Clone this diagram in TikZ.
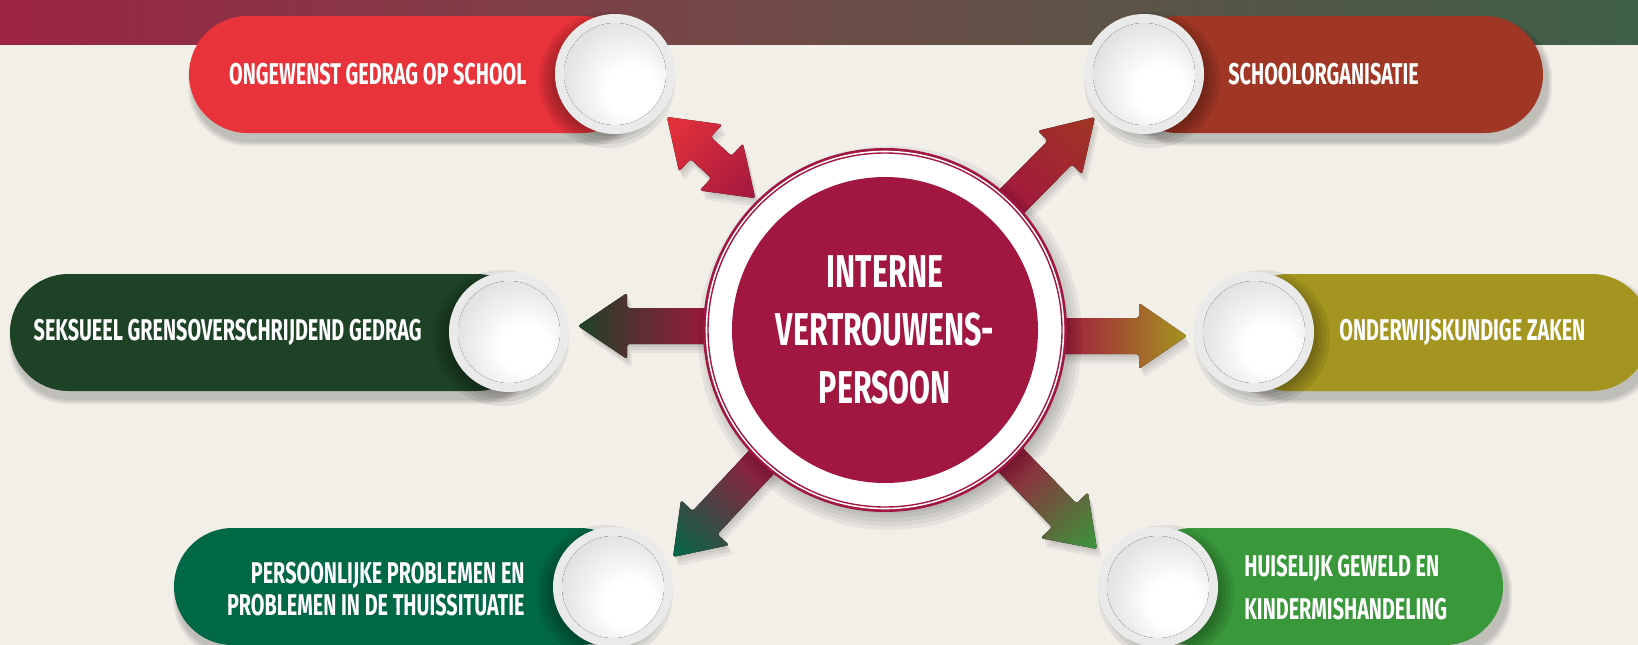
\documentclass[tikz,border=0pt]{standalone}
\usepackage{fontspec}
\newfontfamily\condfont[FakeStretch=0.66]{Fira Sans}
\usetikzlibrary{calc}
\definecolor{bg}{HTML}{F2EFE9}
\definecolor{crim}{HTML}{A2173F}
\definecolor{cred}{HTML}{E8333A}
\definecolor{crust}{HTML}{A03624}
\definecolor{cdkgreen}{HTML}{1E4226}
\definecolor{colive}{HTML}{A3951F}
\definecolor{cgreen}{HTML}{006847}
\definecolor{clgreen}{HTML}{38983A}
\definecolor{ringgray}{HTML}{EAEAEA}
\definecolor{bandL}{HTML}{9C2443}
\definecolor{bandM}{HTML}{6E4D48}
\definecolor{bandR}{HTML}{3E5F46}
\pgfdeclareradialshading{bowl}{\pgfpoint{10bp}{-10bp}}{color(0bp)=(white); color(12bp)=(white); color(32bp)=(black!12); color(50bp)=(black!24); color(60bp)=(black!26)}
\newcommand\fatarrow[4]{(0,0) -- (-#1,#2) -- (-#1,#3) -- (-#4,#3) -- (-#4,-#3) -- (-#1,-#3) -- (-#1,-#2) -- cycle}
\newcommand\dblarrowpath{(60,0) -- (14,32) -- (14,15) -- (-14,15) -- (-14,32) -- (-60,0) -- (-14,-32) -- (-14,-15) -- (14,-15) -- (14,-32) -- cycle}
\newcommand\pillshape[5]{%
  \foreach \k in {1,...,5}{\fill[black,opacity=0.045,rounded corners=58pt] ({#1-\k+4},{#2-\k+8}) rectangle ({#3+\k+4},{#4+\k+8});}
  \fill[#5,rounded corners=58.5pt] (#1,#2) rectangle (#3,#4);}
\newcommand\bowlshadow[3]{%
  \foreach \r in {52,56,60,64,68}{\fill[black,opacity=0.07] ({#1+#3},{#2+6}) circle[radius=\r pt];}}
\newcommand\gradarrow[7]{%
  \foreach \d in {3,6,9}{\begin{scope}[transform canvas={shift={(#1)},shift={(0.5*\d,\d)},rotate=#2}]\fill[black,opacity=0.055,rounded corners=2.5pt] \fatarrow{#4}{#5}{#6}{#7};\end{scope}}
  \begin{scope}[transform canvas={shift={(#1)},rotate=#2}]\fill[left color=crim,right color=#3,rounded corners=2.5pt] \fatarrow{#4}{#5}{#6}{#7};\end{scope}}
\tikzset{
  bowlring/.style={circle,fill=ringgray,minimum size=120pt,inner sep=0pt},
  lbl/.style={font=\condfont\bfseries\fontsize{30}{32}\selectfont,text=white,inner sep=0pt},
  ctext/.style={font=\condfont\bfseries\fontsize{46}{58}\selectfont,text=white,inner sep=0pt,align=center}
}
\begin{document}
\begin{tikzpicture}[x=1pt,y=-1pt]
\useasboundingbox (0,0) rectangle (1638,645);
\fill[bg] (0,0) rectangle (1638,645);
\fill[left color=bandL,right color=bandR,middle color=bandM] (0,0) rectangle (1638,44);

% pills
\pillshape{189}{16}{640}{133}{cred}
\pillshape{1120}{16}{1543}{133}{crust}
\pillshape{10}{274}{535}{391}{cdkgreen}
\pillshape{1230}{274}{1650}{391}{colive}
\pillshape{174}{528}{638}{645}{cgreen}
\pillshape{1134}{528}{1503}{645}{clgreen}

% circle shadows
\bowlshadow{615}{74}{-8}
\bowlshadow{1144}{74}{8}
\bowlshadow{509}{332}{-8}
\bowlshadow{1254}{332}{8}
\bowlshadow{613}{587}{-8}
\bowlshadow{1158}{587}{8}

% circles
\node[bowlring] (c1) at (615,74) {};
\node[bowlring] (c2) at (1144,74) {};
\node[bowlring] (c3) at (509,332) {};
\node[bowlring] (c4) at (1254,332) {};
\node[bowlring] (c5) at (613,587) {};
\node[bowlring] (c6) at (1158,587) {};
\foreach \c in {c1,c2,c3,c4,c5,c6}{\fill[shading=bowl] (\c.center) circle[radius=51pt];}

% labels
\node[lbl,anchor=east] (t1) at ([xshift=-28pt]c1.west) {ONGEWENST GEDRAG OP SCHOOL};
\node[lbl,anchor=west] (t2) at ([xshift=24pt]c2.east) {SCHOOLORGANISATIE};
\node[lbl,anchor=east] (t3) at ([xshift=-27pt]c3.west) {SEKSUEEL GRENSOVERSCHRIJDEND GEDRAG};
\node[lbl,anchor=west] (t4) at ([xshift=25pt]c4.east) {ONDERWIJSKUNDIGE ZAKEN};
\node[lbl,anchor=east,align=right] (t5) at ([xshift=-28pt,yshift=-2pt]c5.west) {PERSOONLIJKE PROBLEMEN EN\\PROBLEMEN IN DE THUISSITUATIE};
\node[lbl,anchor=west,align=left,font=\condfont\bfseries\fontsize{30}{43}\selectfont] (t6) at ([xshift=26pt,yshift=-1pt]c6.east) {HUISELIJK GEWELD EN\\KINDERMISHANDELING};

% arrows
\coordinate (aul) at (711,157.5);
\coordinate (aur) at (1095,117);
\coordinate (al) at (578,326);
\coordinate (ar) at (1187,336);
\coordinate (all) at (673,557);
\coordinate (alr) at (1097,549);
\foreach \d in {3,6,9}{\begin{scope}[transform canvas={shift={(aul)},shift={(0.5*\d,\d)},rotate=137.4}]\fill[black,opacity=0.055,rounded corners=2.5pt] \dblarrowpath;\end{scope}}
\begin{scope}[transform canvas={shift={(aul)},rotate=137.4}]\fill[left color=crim,right color=cred,rounded corners=2.5pt] \dblarrowpath;\end{scope}
\gradarrow{aur}{45.4}{crust}{50}{31}{17}{127}
\gradarrow{al}{180}{cdkgreen}{49}{33}{18}{135}
\gradarrow{ar}{0}{colive}{48}{33}{18}{130}
\gradarrow{all}{-133}{cgreen}{47}{33}{17}{138}
\gradarrow{alr}{-45.9}{clgreen}{47}{33}{17}{133}

% centre
\foreach \r in {176,180,184,188,192}{\fill[black,opacity=0.05] (890,338) circle[radius=\r pt];}
\node[circle,fill=crim,minimum size=364pt,inner sep=0pt] (vp) at (885,330) {};
\fill[white] (vp.center) circle[radius=179.3pt];
\draw[crim,line width=1.4pt] (vp.center) circle[radius=177pt];
\fill[crim] (vp.center) circle[radius=153pt];
\node[ctext] (vpt) at (vp.center) {INTERNE\\VERTROUWENS-\\PERSOON};
\end{tikzpicture}
\end{document}
